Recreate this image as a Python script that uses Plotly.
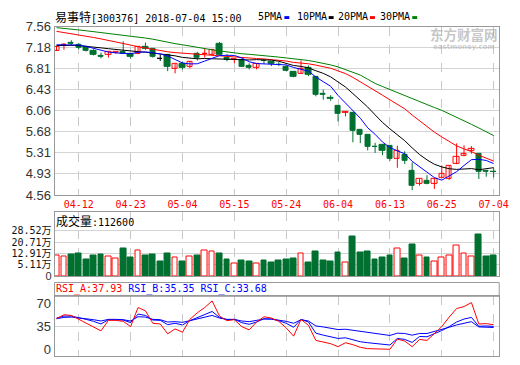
import plotly.graph_objects as go

# ---------------- data ----------------
DATES = ["04-09", "04-10", "04-11", "04-12", "04-13", "04-16", "04-17", "04-18", "04-19", "04-20",
         "04-23", "04-24", "04-25", "04-26", "04-27", "05-02", "05-03", "05-04", "05-07", "05-08",
         "05-09", "05-10", "05-11", "05-14", "05-15", "05-16", "05-17", "05-18", "05-21", "05-22",
         "05-23", "05-24", "05-25", "05-28", "05-29", "05-30", "05-31", "06-01", "06-04", "06-05",
         "06-06", "06-07", "06-08", "06-11", "06-12", "06-13", "06-14", "06-15", "06-19", "06-20",
         "06-21", "06-22", "06-25", "06-26", "06-27", "06-28", "06-29", "07-02", "07-03", "07-04"]
TICK_DATES = ["04-12", "04-23", "05-04", "05-15", "05-24", "06-04", "06-13", "06-25", "07-04"]

OPEN = [7.14, 7.235, 7.28, 7.247, 7.21, 7.14, 7.045, 7.055, 7.09, 7.12,
        7.08, 7.08, 7.21, 7.16, 6.99, 7.055, 6.815, 6.90, 6.84, 7.075,
        7.07, 7.06, 7.265, 7.007, 6.97, 6.97, 6.87, 6.823, 6.96, 6.93,
        6.885, 6.85, 6.765, 6.725, 6.82, 6.668, 6.36, 6.30, 6.153, 6.03,
        6.03, 5.714, 5.63, 5.42, 5.457, 5.43, 5.20, 5.27, 4.999, 4.753,
        4.816, 4.753, 4.868, 4.856, 5.114, 5.25, 5.343, 5.285, 4.99, 4.975]
HIGH = [7.22, 7.27, 7.32, 7.27, 7.21, 7.16, 7.10, 7.115, 7.12, 7.30,
        7.09, 7.21, 7.28, 7.17, 7.065, 7.06, 6.90, 6.94, 6.95, 7.114,
        7.17, 7.16, 7.29, 7.07, 6.99, 6.98, 6.91, 6.90, 6.98, 6.94,
        6.93, 6.87, 6.77, 6.96, 6.87, 6.67, 6.44, 6.34, 6.153, 6.06,
        6.03, 5.72, 5.64, 5.49, 5.47, 5.44, 5.44, 5.34, 5.14, 4.85,
        4.914, 4.86, 5.085, 5.09, 5.48, 5.445, 5.43, 5.29, 4.99, 5.045]
LOW = [7.13, 7.15, 7.225, 7.16, 7.12, 7.05, 6.997, 7.01, 7.08, 7.08,
       6.99, 7.07, 7.15, 7.01, 6.95, 6.77, 6.73, 6.80, 6.82, 6.96,
       7.01, 7.05, 7.06, 6.944, 6.91, 6.85, 6.80, 6.80, 6.90, 6.86,
       6.86, 6.77, 6.66, 6.72, 6.68, 6.32, 6.26, 6.24, 5.874, 5.96,
       5.50, 5.485, 5.355, 5.31, 5.27, 5.17, 5.045, 5.11, 4.645, 4.725,
       4.75, 4.668, 4.86, 4.828, 5.11, 5.25, 5.296, 4.845, 4.885, 4.873]
CLOSE = [7.196, 7.245, 7.25, 7.18, 7.14, 7.055, 7.02, 7.11, 7.11, 7.08,
         7.025, 7.196, 7.16, 7.02, 6.99, 6.84, 6.895, 6.83, 6.94, 7.0,
         7.08, 7.156, 7.06, 6.97, 6.985, 6.85, 6.82, 6.898, 6.95, 6.90,
         6.875, 6.78, 6.67, 6.817, 6.71, 6.35, 6.35, 6.27, 6.0, 6.04,
         5.70, 5.64, 5.416, 5.41, 5.355, 5.21, 5.34, 5.17, 4.725, 4.845,
         4.753, 4.856, 4.942, 5.085, 5.24, 5.30, 5.383, 4.97, 4.98, 4.965]

MA5 = [7.24, 7.24, 7.245, 7.235, 7.21, 7.18, 7.14, 7.11, 7.095, 7.085,
       7.08, 7.105, 7.113, 7.096, 7.078, 7.041, 6.981, 6.915, 6.899, 6.901,
       6.949, 7.001, 7.047, 7.053, 7.05, 7.004, 6.937, 6.905, 6.901, 6.884,
       6.889, 6.881, 6.835, 6.808, 6.77, 6.665, 6.579, 6.499, 6.336, 6.202,
       6.072, 5.93, 5.759, 5.641, 5.504, 5.406, 5.346, 5.297, 5.16, 5.058,
       4.967, 4.87, 4.824, 4.896, 4.975, 5.085, 5.19, 5.196, 5.175, 5.12]
MA10 = [7.225, 7.23, 7.23, 7.225, 7.215, 7.2, 7.185, 7.17, 7.155, 7.138,
        7.121, 7.117, 7.108, 7.092, 7.077, 7.055, 7.043, 7.015, 6.998, 6.99,
        6.995, 6.991, 6.981, 6.976, 6.975, 6.976, 6.969, 6.975, 6.976, 6.966,
        6.946, 6.909, 6.87, 6.855, 6.827, 6.777, 6.73, 6.667, 6.572, 6.486,
        6.369, 6.255, 6.129, 5.989, 5.854, 5.739, 5.638, 5.528, 5.40, 5.281,
        5.186, 5.108, 5.06, 5.028, 5.016, 5.026, 5.03, 5.01, 5.035, 5.047]
MA20 = [7.48, 7.46, 7.44, 7.42, 7.395, 7.37, 7.345, 7.32, 7.29, 7.265,
        7.235, 7.205, 7.18, 7.155, 7.135, 7.115, 7.10, 7.09, 7.08, 7.064,
        7.058, 7.054, 7.044, 7.034, 7.026, 7.016, 7.006, 6.995, 6.987, 6.978,
        6.971, 6.95, 6.925, 6.915, 6.901, 6.877, 6.849, 6.821, 6.774, 6.726,
        6.658, 6.582, 6.50, 6.422, 6.34, 6.258, 6.184, 6.097, 5.986, 5.883,
        5.777, 5.681, 5.595, 5.508, 5.435, 5.382, 5.334, 5.269, 5.218, 5.164]
MA30 = [7.545, 7.535, 7.52, 7.505, 7.49, 7.475, 7.46, 7.445, 7.43, 7.415,
        7.40, 7.38, 7.36, 7.34, 7.31, 7.285, 7.26, 7.24, 7.215, 7.195,
        7.175, 7.15, 7.13, 7.11, 7.09, 7.08, 7.07, 7.06, 7.045, 7.03,
        7.02, 7.005, 6.99, 6.98, 6.96, 6.935, 6.91, 6.88, 6.845, 6.80,
        6.75, 6.70, 6.625, 6.55, 6.495, 6.44, 6.39, 6.335, 6.28, 6.225,
        6.17, 6.12, 6.07, 6.01, 5.95, 5.885, 5.82, 5.755, 5.685, 5.62]

VOLUME = [11.67, 10.8, 12.1, 12.98, 9.04, 11.67, 12.32, 10.8, 9.5, 16.26,
          10.35, 14.75, 11.67, 12.32, 7.73, 12.98, 10.35, 7.73, 10.8, 11.67,
          14.75, 14.29, 12.98, 9.04, 6.42, 8.19, 7.73, 6.42, 8.39, 6.62,
          8.39, 9.04, 9.7, 12.98, 7.08, 14.29, 8.39, 7.73, 13.63, 7.08,
          24.78, 13.63, 14.29, 9.04, 10.35, 11.67, 16.26, 9.7, 18.88, 11.67,
          10.35, 7.73, 10.35, 11.67, 18.68, 12.98, 11.0, 26.09, 11.0, 11.26]

RSI_A = [47, 53, 52, 46, 41, 35, 28.5, 44.5, 44.5, 43,
         35, 64, 59, 40, 39, 24, 31.5, 26.5, 46, 56,
         64, 74, 51, 44, 45.5, 35, 30, 42, 50, 48,
         43, 33, 20.5, 46, 37, 14, 12, 9, 4.5, 10.5,
         7.5, 3.5, 1.5, 1.0, 0.8, 0.5, 16, 13, 4.5, 15.5,
         14, 25, 35, 49.5, 62.5, 65.5, 71.5, 39, 39.5, 37.93]
RSI_B = [48, 51, 51, 49, 46, 43, 39, 45.5, 45.5, 45,
         41, 54, 52, 45, 44.5, 38, 40, 37.5, 44, 49,
         53, 58, 49, 45.5, 46, 41, 38.5, 42, 47, 46.5,
         44, 40, 34, 46, 42, 25, 22, 20, 17, 18,
         15, 12, 10.5, 9, 8, 7, 17, 15.5, 11, 20,
         19.5, 24, 29, 35, 42, 46.5, 49, 35.5, 36, 35.35]
RSI_C = [47, 49, 49.5, 48.5, 47, 45.5, 43.5, 46, 46, 45.5,
         43.5, 50, 49.5, 46, 45.5, 42, 42.5, 41.5, 44, 47,
         49.5, 52, 48, 46, 46, 43.5, 42.5, 44, 46.5, 46.5,
         45, 43, 40, 45.5, 43.5, 36, 34.5, 33, 30.5, 31,
         29.5, 27, 25.5, 24.5, 23, 21.5, 25, 24.5, 22, 24.5,
         24.5, 27.5, 30, 34, 37.5, 39.5, 42.5, 34.5, 34, 33.68]

PRICE_TICKS = [4.56, 4.935, 5.31, 5.685, 6.06, 6.435, 6.81, 7.185, 7.56]
PRICE_TICK_TEXT = ["4.56", "4.93", "5.31", "5.68", "6.06", "6.43", "6.81", "7.18", "7.56"]
VOL_TICKS = [5.11, 12.91, 20.71, 28.52]
VOL_TICK_TEXT = ["5.11万", "12.91万", "20.71万", "28.52万"]
RSI_TICKS = [0, 35, 70]

TITLE_NAME = "易事特"
TITLE_REST = "[300376] 2018-07-04 15:00"
MA_NAMES = ["5PMA", "10PMA", "20PMA", "30PMA"]
VOL_LABEL = "成交量"
VOL_LAST = "112600"
RSI_NAMES = ["RSI_A", "RSI_B", "RSI_C"]

# ---------------- style ----------------
W, H = 520, 365
RED = "#ff0000"
GREEN = "#007030"
BLACK = "#000000"
BLUE = "#0000ff"
MA_GREEN = "#008000"
FRAME = "#999999"
GRID = "#d4d4d4"
MONO = "DejaVu Sans Mono"
CJK = "Noto Sans CJK SC"
LABEL_FONT = dict(family="Liberation Sans", size=13, color="#333333")


def px(x):
    return x / W


def py(y):
    return 1 - y / H


X0, X1 = 55.5, 508
MAIN_Y = (20.7, 196.0)
VOL_Y = (214.3, 280.8)
RSI_HEAD = (287.3, 301.7)
RSI_Y = (301.7, 363.5)

VOL_PER_PX = (28.52 - 5.11) / 35.7
VMIN = 5.11 - (VOL_Y[1] - 269.0) * VOL_PER_PX
VMAX = 5.11 + (269.0 - VOL_Y[0]) * VOL_PER_PX
RSI_PER_PX = 35 / 24.0
RMIN = 35 - (RSI_Y[1] - 333.3) * RSI_PER_PX
RMAX = 35 + (333.3 - RSI_Y[0]) * RSI_PER_PX

n = len(DATES)


def kind(i):
    if CLOSE[i] > OPEN[i]:
        return "up"
    if CLOSE[i] < OPEN[i]:
        return "down"
    return "flat"


KIND_COLOR = {"up": RED, "down": GREEN, "flat": BLACK}

fig = go.Figure()

# wicks
for k, col in KIND_COLOR.items():
    xs, ys = [], []
    for i in range(n):
        if kind(i) == k:
            xs += [DATES[i], DATES[i], None]
            ys += [LOW[i], HIGH[i], None]
    if xs:
        fig.add_trace(go.Scatter(x=xs, y=ys, mode="lines", line=dict(color=col, width=1),
                                 hoverinfo="skip", showlegend=False, xaxis="x", yaxis="y"))

# bodies
body_line = [KIND_COLOR[kind(i)] for i in range(n)]
body_fill = ["#ffffff" if kind(i) == "up" else KIND_COLOR[kind(i)] for i in range(n)]
body_base = [min(OPEN[i], CLOSE[i]) for i in range(n)]
body_h = [max(abs(CLOSE[i] - OPEN[i]), 0.006) for i in range(n)]
fig.add_trace(go.Bar(x=DATES, y=body_h, base=body_base, width=0.72,
                     marker=dict(color=body_fill, line=dict(color=body_line, width=1)),
                     showlegend=False, xaxis="x", yaxis="y"))

# moving averages
for vals, col in [(MA30, MA_GREEN), (MA20, RED), (MA10, BLACK), (MA5, BLUE)]:
    fig.add_trace(go.Scatter(x=DATES, y=vals, mode="lines", line=dict(color=col, width=1),
                             showlegend=False, xaxis="x", yaxis="y"))

# volume
vol_line = [RED if kind(i) == "up" else GREEN for i in range(n)]
vol_fill = ["#ffffff" if kind(i) == "up" else GREEN for i in range(n)]
fig.add_trace(go.Bar(x=DATES, y=[v - VMIN for v in VOLUME], base=VMIN, width=0.78,
                     marker=dict(color=vol_fill, line=dict(color=vol_line, width=1)),
                     showlegend=False, xaxis="x2", yaxis="y2"))

# RSI
for vals, col in [(RSI_C, BLUE), (RSI_B, BLUE), (RSI_A, RED)]:
    fig.add_trace(go.Scatter(x=DATES, y=vals, mode="lines", line=dict(color=col, width=1),
                             showlegend=False, xaxis="x3", yaxis="y3"))

xdom = [px(X0), px(X1)]
xcommon = dict(type="category", categoryorder="array", categoryarray=DATES,
               domain=xdom, range=[-0.27, 59.75], showgrid=True,
               griddash="dash", gridcolor="#c8c8c8", gridwidth=1, tickvals=TICK_DATES,
               showline=True, linecolor=FRAME, linewidth=1, mirror=True, ticks="",
               zeroline=False, fixedrange=True, tickangle=0)

fig.update_layout(
    width=W, height=H, autosize=False,
    margin=dict(l=0, r=0, t=0, b=0),
    paper_bgcolor="white", plot_bgcolor="white",
    bargap=0, showlegend=False,
    xaxis=dict(**xcommon, anchor="y", showticklabels=True, ticktext=TICK_DATES,
               ticklabeloverflow="allow",
               tickfont=dict(family=MONO, size=10, color=RED)),
    yaxis=dict(domain=[py(MAIN_Y[1]), py(MAIN_Y[0])], range=[4.56, 7.56],
               tickvals=PRICE_TICKS, ticktext=PRICE_TICK_TEXT, tickfont=LABEL_FONT,
               showgrid=True, gridcolor=GRID, gridwidth=1, zeroline=False,
               showline=True, linecolor=FRAME, mirror=True, ticks="", anchor="x"),
    xaxis2=dict(**xcommon, anchor="y2", showticklabels=False),
    yaxis2=dict(domain=[py(VOL_Y[1]), py(VOL_Y[0])], range=[VMIN, VMAX],
                tickvals=[VMIN] + VOL_TICKS,
                ticktext=["<span style='font-family:Liberation Sans;font-size:11px;fill:#333333'>0</span>"] + VOL_TICK_TEXT,
                tickfont=dict(family=MONO + ", " + CJK, size=10, color="#111111"),
                showgrid=True, gridcolor=GRID, gridwidth=1, zeroline=False,
                showline=True, linecolor=FRAME, mirror=True, ticks="", anchor="x2"),
    xaxis3=dict(**xcommon, anchor="y3", showticklabels=False),
    yaxis3=dict(domain=[py(RSI_Y[1]), py(RSI_Y[0])], range=[RMIN, RMAX],
                tickvals=RSI_TICKS, tickfont=LABEL_FONT, showgrid=False, zeroline=False,
                minor=dict(tickvals=[35], showgrid=True, gridcolor=GRID, ticks=""),
                showline=True, linecolor=FRAME, mirror=True, ticks="", anchor="x3"),
)

# RSI header frame
fig.add_shape(type="rect", xref="paper", yref="paper", x0=px(X0), x1=px(X1),
              y0=py(RSI_HEAD[1]), y1=py(RSI_HEAD[0]), line=dict(color=FRAME, width=1))


def cjk_span(t, size=12):
    return f"<span style='font-family:{CJK};font-size:{size}px'>{t}</span>"


def note(x, y, text, color="#000000", size=10, family=MONO, anchor="left", **kw):
    fig.add_annotation(x=px(x), y=py(y), xref="paper", yref="paper", text=text,
                       showarrow=False, xanchor=anchor, yanchor="middle", borderpad=0,
                       font=dict(family=family, size=size, color=color), **kw)


# title
note(55, 10, cjk_span(TITLE_NAME) + TITLE_REST)

# MA legend
legend_x = [262, 301, 343, 386]
legend_cols = [BLUE, BLACK, RED, MA_GREEN]
for name, lx, col in zip(MA_NAMES, legend_x, legend_cols):
    note(lx, 10, name)
    sx = lx + 6.1 * len(name) + 3
    fig.add_shape(type="rect", xref="paper", yref="paper", x0=px(sx), x1=px(sx + 5),
                  y0=py(12.5), y1=py(9.5), fillcolor=col, line=dict(width=0))

# watermark
note(472, 28, "<b>东方财富网</b>", color="rgba(150,150,150,0.55)", size=13.5, family=CJK, anchor="center")
note(472, 42, "<b>eastmoney.com</b>", color="rgba(150,150,150,0.45)", size=7, family="DejaVu Sans", anchor="center")

# volume header
note(56, 223, cjk_span(VOL_LABEL) + ":" + VOL_LAST)

# RSI header
rsi_last = [RSI_A[-1], RSI_B[-1], RSI_C[-1]]
rsi_cols = [RED, BLUE, BLUE]
parts = [f"<span style='fill:{c}'>{nm}:{v:.2f}</span>" for nm, v, c in zip(RSI_NAMES, rsi_last, rsi_cols)]
note(56, 294.5, " ".join(parts))

fig.write_html("out.html", config={"displayModeBar": False},
               post_script="document.body.style.margin='0';document.body.style.overflow='hidden';")
